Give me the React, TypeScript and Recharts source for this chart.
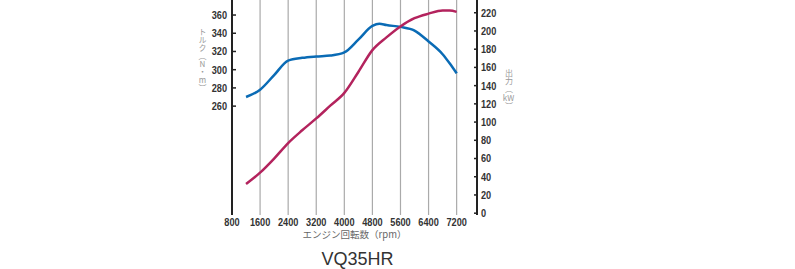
import React from 'react';
import { LineChart, Line, XAxis, YAxis, CartesianGrid } from 'recharts';

const rpmTicks = [800, 1600, 2400, 3200, 4000, 4800, 5600, 6400, 7200];
const torqueTicks = [260, 280, 300, 320, 340, 360];
const powerTicks = [0, 20, 40, 60, 80, 100, 120, 140, 160, 180, 200, 220];

const torqueRpm = [1200, 1600, 2000, 2400, 2800, 3200, 3600, 4000, 4400, 4800, 5000, 5200, 5600, 6000, 6400, 6800, 7000, 7200];
const torqueNm = [270, 278, 294, 310, 313, 314.5, 315.5, 319, 333, 348, 350.5, 349, 347, 343, 331, 317, 307, 296];

const powerRpm = [1200, 1600, 2000, 2400, 2800, 3200, 3600, 4000, 4400, 4800, 5200, 5600, 6000, 6400, 6800, 7000, 7200];
const powerKw = [32, 44.5, 60, 77, 91, 104, 118, 132, 155, 179, 193, 205, 214, 219, 222.5, 222.5, 221];

const torqueData = torqueRpm.map((rpm, i) => ({ rpm, torque: torqueNm[i] }));
const powerData = powerRpm.map((rpm, i) => ({ rpm, power: powerKw[i] }));

const tickFont = { fontFamily: '"Liberation Sans", Arial, sans-serif', fontSize: 11, fontWeight: 700, fill: '#333' };
const jpFont = '"Noto Sans CJK JP", sans-serif';

// squeeze the digits like the condensed face in the original
const Num = ({ x, y, anchor, value }: any) => {
  const s = String(value);
  return (
    <text x={x} y={y} dy="0.36em" textAnchor={anchor} textLength={s.length * 5.1} lengthAdjust="spacingAndGlyphs" {...tickFont}>{s}</text>
  );
};

const LeftTick = (props: any) => {
  const { x, y, payload } = props;
  return (
    <g>
      <line x1={x} x2={x + 4} y1={y} y2={y} stroke="#222" strokeWidth={1.5} />
      <Num x={x - 5} y={y} anchor="end" value={payload.value} />
    </g>
  );
};

const RightTick = (props: any) => {
  const { x, y, payload } = props;
  return (
    <g>
      <line x1={x - 3} x2={x} y1={y} y2={y} stroke="#222" strokeWidth={1.5} />
      <Num x={x + 4} y={y} anchor="start" value={payload.value} />
    </g>
  );
};

const BottomTick = (props: any) => {
  const { x, y, payload } = props;
  return <Num x={x} y={y} anchor="middle" value={payload.value} />;
};

// vertical (tategaki) title
const VerticalTitle = ({ cx, top, children }: any) => (
  <foreignObject x={cx - 8} y={top} width={16} height={80}>
    <div
      style={{
        writingMode: 'vertical-rl',
        textOrientation: 'upright',
        fontFamily: jpFont,
        fontSize: 8,
        lineHeight: '16px',
        color: '#999',
        whiteSpace: 'nowrap',
        margin: 0,
      }}
    >
      {children}
    </div>
  </foreignObject>
);

const TorqueLabel = (props: any) => {
  const { viewBox } = props;
  return <VerticalTitle cx={viewBox.x + 10} top={28}>トルク（N・m）</VerticalTitle>;
};

const PowerLabel = (props: any) => {
  const { viewBox } = props;
  return (
    <VerticalTitle cx={viewBox.x + 31.5} top={69}>
      出力（<span style={{ display: 'inline-block', writingMode: 'horizontal-tb', lineHeight: '9px' }}>kW</span>）
    </VerticalTitle>
  );
};

const RpmLabel = (props: any) => {
  const { viewBox } = props;
  const cx = viewBox.x + viewBox.width / 2;
  return (
    <g>
      <text x={cx} y={235} dy="0.35em" textAnchor="middle" fontFamily={jpFont} fontSize={9.5} fill="#666">エンジン回転数（rpm）</text>
      <text x={cx + 3} y={265} textAnchor="middle" fontFamily='"Liberation Sans", sans-serif' fontSize={18} fill="#333">VQ35HR</text>
    </g>
  );
};

export default function App() {
  return (
    <div style={{ position: 'absolute', left: 0, top: 0, background: '#fff' }}>
      <LineChart width={795} height={269} margin={{ top: 0, right: 278, left: 192, bottom: 34 }}>
        <CartesianGrid horizontal={false} stroke="#aaa" strokeWidth={1.2} />
        <XAxis
          dataKey="rpm"
          type="number"
          domain={[800, 7780]}
          ticks={rpmTicks}
          interval={0}
          allowDuplicatedCategory={false}
          axisLine={false}
          tickLine={false}
          tickSize={0}
          tickMargin={7}
          height={20}
          tick={<BottomTick />}
          label={<RpmLabel />}
        />
        <YAxis
          yAxisId="torque"
          orientation="left"
          width={40}
          domain={[140.5, 376.5]}
          ticks={torqueTicks}
          interval={0}
          allowDataOverflow
          axisLine={{ stroke: '#222', strokeWidth: 2 }}
          tickLine={false}
          tickSize={0}
          tickMargin={0}
          tick={<LeftTick />}
          label={<TorqueLabel />}
        />
        <YAxis
          yAxisId="power"
          orientation="right"
          width={40}
          domain={[-2, 234]}
          ticks={powerTicks}
          interval={0}
          allowDataOverflow
          axisLine={{ stroke: '#222', strokeWidth: 2 }}
          tickLine={false}
          tickSize={0}
          tickMargin={0}
          tick={<RightTick />}
          label={<PowerLabel />}
        />
        <Line yAxisId="torque" data={torqueData} dataKey="torque" type="monotone" stroke="#0a6bb5" strokeWidth={2.5} dot={false} isAnimationActive={false} />
        <Line yAxisId="power" data={powerData} dataKey="power" type="monotone" stroke="#b3235d" strokeWidth={2.5} dot={false} isAnimationActive={false} />
      </LineChart>
    </div>
  );
}
